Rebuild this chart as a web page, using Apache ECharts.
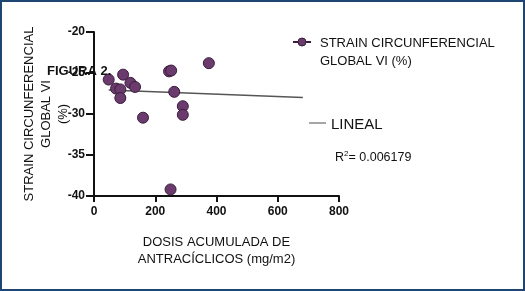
<!DOCTYPE html>
<html>
<head>
<meta charset="utf-8">
<script src="https://cdn.jsdelivr.net/npm/echarts@6/dist/echarts.min.js"></script>
<style>
html,body{margin:0;padding:0;background:#fff;}
#c{width:525px;height:291px;}
</style>
</head>
<body>
<div id="c"></div>
<script>
// Data
var doseValues   = [48, 95, 72, 86, 86, 119, 134, 160, 245, 252, 262, 290, 290, 375, 250];
var strainValues = [-25.8, -25.2, -26.9, -27.0, -28.05, -26.2, -26.7, -30.45, -24.8, -24.7, -27.3, -29.05, -30.1, -23.8, -39.2];
var fitX = [48, 682];
var fitY = [-27.07, -28.0];
var xTicks = [0, 200, 400, 600, 800];
var yTicks = [-40, -35, -30, -25, -20];
var seriesName = 'STRAIN CIRCUNFERENCIAL\nGLOBAL VI (%)';
var fitName = 'LINEAL';
var r2Text = '0.006179';

var scatterData = doseValues.map(function (d, i) { return [d, strainValues[i]]; });
var fitData = fitX.map(function (d, i) { return [d, fitY[i]]; });

var chart = echarts.init(document.getElementById('c'), null, {renderer: 'canvas'});
var font = 'Liberation Sans, Arial, sans-serif';
var purple = '#6a3b6c';
var purpleDark = '#3a1c3c';

chart.setOption({
  backgroundColor: '#fff',
  animation: false,
  grid: {left: 94, right: 186, top: 32, bottom: 95},
  xAxis: {
    type: 'value', min: 0, max: 800, interval: 200,
    name: 'DOSIS ACUMULADA DE\nANTRACÍCLICOS (mg/m2)',
    nameLocation: 'middle', nameGap: 38, nameMoveOverlap: false,
    nameTextStyle: {fontFamily: font, fontSize: 13, color: '#111', lineHeight: 17},
    axisLine: {lineStyle: {color: '#111', width: 2}},
    axisTick: {show: true, length: 6, lineStyle: {color: '#111', width: 2}},
    axisLabel: {fontFamily: font, fontSize: 12, fontWeight: 'bold', color: '#111', margin: 10},
    splitLine: {show: false}
  },
  yAxis: {
    type: 'value', min: -40, max: -20, interval: 5,
    name: 'STRAIN CIRCUNFERENCIAL\nGLOBAL VI\n(%)',
    nameLocation: 'middle', nameGap: 22, nameRotate: 90, nameMoveOverlap: false,
    nameTextStyle: {fontFamily: font, fontSize: 13, color: '#111', lineHeight: 17},
    axisLine: {show: true, onZero: false, lineStyle: {color: '#111', width: 2}},
    axisTick: {show: true, length: 8, lineStyle: {color: '#111', width: 2}},
    axisLabel: {fontFamily: font, fontSize: 12, fontWeight: 'bold', color: '#111', margin: 9},
    splitLine: {show: false}
  },
  series: [
    {
      name: fitName, type: 'line', data: fitData, symbol: 'none',
      lineStyle: {color: '#555', width: 1.5}, z: 2
    },
    {
      name: seriesName, type: 'scatter', data: scatterData, symbolSize: 11,
      itemStyle: {color: purple, borderColor: purpleDark, borderWidth: 1, opacity: 1}, z: 3
    }
  ],
  graphic: [
    {type: 'rect', shape: {x: 1, y: 1, width: 523, height: 289},
     style: {fill: 'none', stroke: '#1f4672', lineWidth: 2}, z: 10},
    {type: 'line', shape: {x1: 293, y1: 42, x2: 311, y2: 42},
     style: {stroke: purpleDark, lineWidth: 2}, z: 5},
    {type: 'circle', shape: {cx: 302, cy: 42, r: 4},
     style: {fill: purple, stroke: purpleDark, lineWidth: 1}, z: 6},
    {type: 'text', left: 320, top: 34,
     style: {text: seriesName, fontFamily: font, fontSize: 13, fill: '#111', lineHeight: 18}, z: 5},
    {type: 'line', shape: {x1: 309, y1: 123, x2: 326, y2: 123},
     style: {stroke: '#888', lineWidth: 1.5}, z: 5},
    {type: 'text', left: 331, top: 117,
     style: {text: fitName, fontFamily: font, fontSize: 15, fill: '#111'}, z: 5},
    {type: 'text', left: 335, top: 150,
     style: {
       text: '{r|R}{s|2}{r|= ' + r2Text + '}',
       rich: {
         r: {fontFamily: font, fontSize: 12.5, fill: '#111', verticalAlign: 'bottom'},
         s: {fontFamily: font, fontSize: 8, fill: '#111', verticalAlign: 'top', padding: [0, 0, 6, 0]}
       }
     }, z: 5},
    {type: 'text', left: 47, top: 65,
     style: {text: 'FIGURA 2.', fontFamily: font, fontSize: 13, fontWeight: 'bold', fill: '#111'}, z: 7}
  ]
});
</script>
</body>
</html>
